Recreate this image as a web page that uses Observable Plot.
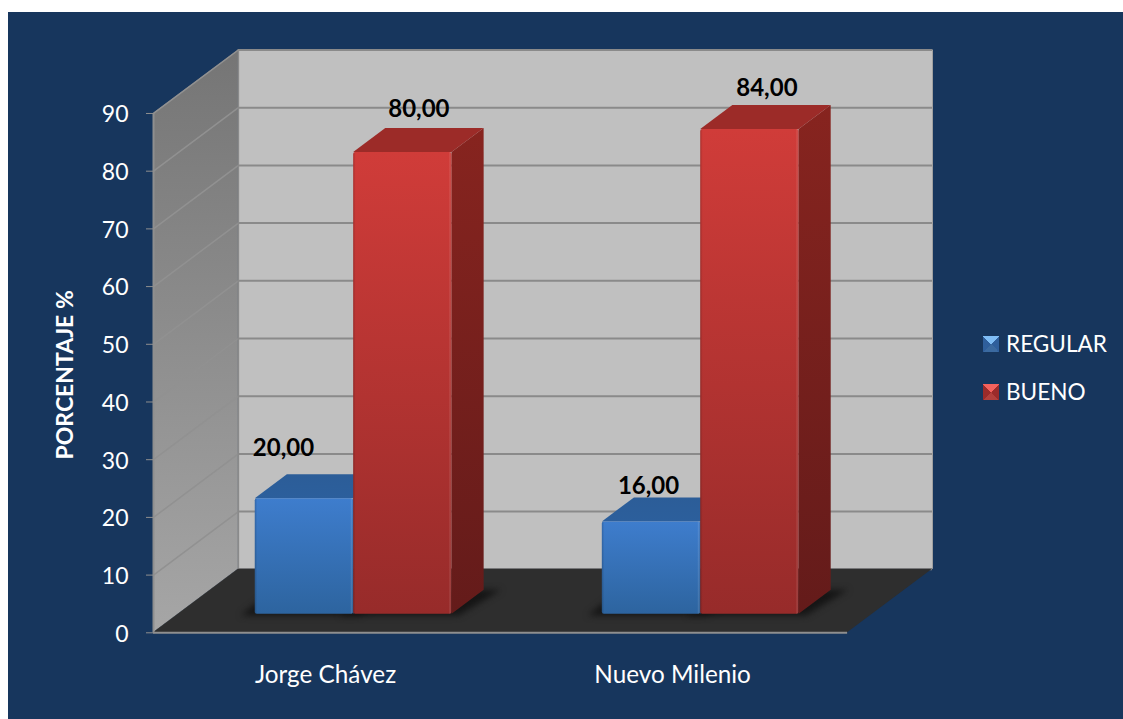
<!DOCTYPE html>
<html lang="es">
<head>
<meta charset="utf-8">
<title>Porcentaje por institución</title>
<script src="https://cdn.jsdelivr.net/npm/d3@7"></script>
<script src="https://cdn.jsdelivr.net/npm/@observablehq/plot@0.6"></script>
<style>
  html, body { margin: 0; padding: 0; background: #fff; }
  body { width: 1123px; height: 719px; position: relative; overflow: hidden; font-family: Lato, sans-serif; }
  #panel { position: absolute; left: 8px; top: 12px; right: 0; bottom: 0; background: #17365d; }
  #chart { position: absolute; left: 0; top: 0; }
  #chart svg { background: transparent; overflow: visible; display: block; }
  .legend-item { position: absolute; left: 983px; height: 16px; display: flex; align-items: center; color: #fff; font-size: 22.6px; }
  .legend-item span.name { position: relative; top: -1px; }
  .swatch { width: 16px; height: 16px; margin-right: 7px; flex: none; }
  .swatch.regular { background: conic-gradient(from 315deg, #7fbdf5 0 25%, #2f5f9c 25% 50%, #3b6aa0 50% 75%, #2f5f9c 75% 100%); }
  .swatch.bueno { background: conic-gradient(from 315deg, #f4625d 0 25%, #9b2b2a 25% 50%, #b2403c 50% 75%, #9b2b2a 75% 100%); }
</style>
</head>
<body>
<div id="panel"></div>
<div id="chart"></div>
<div class="legend-item" style="top:336px"><span class="swatch regular"></span><span class="name">REGULAR</span></div>
<div class="legend-item" style="top:384px"><span class="swatch bueno"></span><span class="name">BUENO</span></div>
<script>
// Survey results per school
const categories = ["Jorge Chávez", "Nuevo Milenio"];
const regular = [20, 16];
const bueno = [80, 84];
const yTicks = [0, 10, 20, 30, 40, 50, 60, 70, 80, 90];
const yMax = 90;

// Oblique projection: depth z in 0..1 shifts a point right and up, in data units
const DEPTH_X = 0.2446;
const DEPTH_Y = 11;
const BAR_Z0 = 0.293;
const BAR_Z1 = 0.671;
const BAR_START = 0.2216;
const BAR_WIDTH = 0.2835;
const px = (x, z) => x + z * DEPTH_X;
const py = (y, z) => y + z * DEPTH_Y;

const bars = [];
categories.forEach((name, i) => {
  bars.push({name, series: "regular", v: regular[i], x0: i + BAR_START, x1: i + BAR_START + BAR_WIDTH});
  bars.push({name, series: "bueno", v: bueno[i], x0: i + BAR_START + BAR_WIDTH, x1: i + BAR_START + 2 * BAR_WIDTH});
});

// Value labels sit freely above the bars, each with its own nudge in pixels
const labelNudge = [[-21, -50], [16, -43], [-3, -36], [17, -41]];

const linear = (id, x2, y2, stops) => {
  const g = d3.create("svg:linearGradient").attr("id", id)
    .attr("x1", 0).attr("y1", 0).attr("x2", x2).attr("y2", y2);
  stops.forEach(([o, c, a]) => g.append("stop").attr("offset", o).attr("stop-color", c).attr("stop-opacity", a ?? 1));
  return g.node();
};
const gradients = () => {
  const defs = d3.create("svg:defs");
  [
    linear("blueFront", 0, 1, [[0, "#3e7dcd"], [1, "#2d649f"]]),
    linear("blueTop", 0, 1, [[0, "#2c5d98"], [1, "#2c5f9c"]]),
    linear("redFront", 0, 1, [[0, "#d03c39"], [1, "#972b2a"]]),
    linear("redSide", 0, 1, [[0, "#87241f"], [1, "#641b1a"]]),
    linear("redTop", 0, 0, [[0, "#9c2b28"], [1, "#9c2b28"]]),
    linear("wall", 0, 1, [[0, "#757575"], [1, "#a6a6a6"]]),
    linear("bevel", 1, 0, [[0, "#000", 0.18], [0.025, "#000", 0], [0.97, "#fff", 0], [0.985, "#fff", 0.12], [1, "#000", 0.15]])
  ].forEach((n) => defs.node().appendChild(n));
  return defs.node();
};

const frontEdge = "#8f8f8f";
const wallTop = yMax + DEPTH_Y;

// Parallelogram helpers: vertical sides use areaY, horizontal sides use areaX
const sideFace = (b) => [
  {x: px(b.x1, BAR_Z0), y1: py(0, BAR_Z0), y2: py(b.v, BAR_Z0)},
  {x: px(b.x1, BAR_Z1), y1: py(0, BAR_Z1), y2: py(b.v, BAR_Z1)}
];
const topFace = (b) => [
  {y: py(b.v, BAR_Z0), x1: px(b.x0, BAR_Z0), x2: px(b.x1, BAR_Z0)},
  {y: py(b.v, BAR_Z1), x1: px(b.x0, BAR_Z1), x2: px(b.x1, BAR_Z1)}
];
const shadow = (b) => [
  {y: py(0, BAR_Z0 - 0.03), x1: px(b.x0 - 0.04, BAR_Z0), x2: px(b.x1 + 0.02, BAR_Z0)},
  {y: py(0, BAR_Z1), x1: px(b.x0 - 0.04, BAR_Z1), x2: px(b.x1 + 0.05, BAR_Z1)}
];

const barMarks = bars.flatMap((b) => {
  const blue = b.series === "regular";
  return [
    Plot.areaY(sideFace(b), {x: "x", y1: "y1", y2: "y2", fill: blue ? "#2b5a92" : "url(#redSide)"}),
    Plot.areaX(topFace(b), {y: "y", x1: "x1", x2: "x2", fill: blue ? "url(#blueTop)" : "url(#redTop)"}),
    Plot.rect([b], {
      x1: (d) => px(d.x0, BAR_Z0), x2: (d) => px(d.x1, BAR_Z0),
      y1: py(0, BAR_Z0), y2: (d) => py(d.v, BAR_Z0),
      fill: blue ? "url(#blueFront)" : "url(#redFront)", rx: 2
    }),
    Plot.rect([b], {
      x1: (d) => px(d.x0, BAR_Z0), x2: (d) => px(d.x1, BAR_Z0),
      y1: py(0, BAR_Z0), y2: (d) => py(d.v, BAR_Z0),
      fill: "url(#bevel)", rx: 2
    })
  ];
});

const chart = Plot.plot({
  width: 1123,
  height: 719,
  marginLeft: 153,
  marginRight: 191,
  marginTop: 49.5,
  marginBottom: 86.7,
  x: {domain: [0, categories.length + DEPTH_X], axis: null},
  y: {domain: [0, wallTop], axis: null},
  style: {background: "transparent", fontFamily: "Lato, sans-serif"},
  marks: [
    gradients,
    // back wall and its gridlines
    Plot.rect([0], {x1: DEPTH_X, x2: categories.length + DEPTH_X, y1: DEPTH_Y, y2: wallTop, fill: "#c0c0c0"}),
    Plot.ruleY(yTicks, {y: (d) => d + DEPTH_Y, x1: DEPTH_X, x2: categories.length + DEPTH_X, stroke: "#8a8a8a", strokeWidth: 2}),
    Plot.ruleX([categories.length + DEPTH_X], {y1: DEPTH_Y, y2: wallTop, stroke: "#a0a0a0", strokeWidth: 1}),
    // left wall with its receding gridlines
    Plot.areaY([{x: 0, y1: 0, y2: yMax}, {x: DEPTH_X, y1: DEPTH_Y, y2: wallTop}], {x: "x", y1: "y1", y2: "y2", fill: "url(#wall)"}),
    Plot.link(yTicks, {x1: 0, x2: DEPTH_X, y1: (d) => d, y2: (d) => d + DEPTH_Y, stroke: "#919191", strokeWidth: 1.5}),
    Plot.ruleX([DEPTH_X], {y1: DEPTH_Y, y2: wallTop, stroke: "#8a8a8a", strokeWidth: 1.5}),
    // floor
    Plot.areaX([{y: 0, x1: 0, x2: categories.length}, {y: DEPTH_Y, x1: DEPTH_X, x2: categories.length + DEPTH_X}], {y: "y", x1: "x1", x2: "x2", fill: "#2e2e2e"}),
    // front edges
    Plot.ruleX([0], {y1: 0, y2: yMax, stroke: frontEdge, strokeWidth: 2}),
    Plot.ruleY([0], {x1: 0, x2: categories.length, stroke: frontEdge, strokeWidth: 2}),
    // soft shadows under the bars
    ...bars.map((b) => Plot.areaX(shadow(b), {y: "y", x1: "x1", x2: "x2", fill: "#151515", imageFilter: "blur(3px)"})),
    ...barMarks,
    // tick marks and their labels are drawn apart so the labels can sit slightly lower
    Plot.axisY(yTicks, {
      anchor: "left", tickSize: 7, stroke: frontEdge, text: null, label: null
    }),
    Plot.axisY(yTicks, {
      anchor: "left", tickSize: 0, tickPadding: 25, fill: "#fff", dy: 1.5,
      fontSize: 23, label: null, tickFormat: (d) => String(d)
    }),
    Plot.text(["PORCENTAJE %"], {
      frameAnchor: "left", textAnchor: "middle", y: 44.7, dx: -88, rotate: -90,
      fill: "#fff", fontWeight: "bold", fontSize: 23
    }),
    Plot.text(categories, {
      x: (d, i) => i + 0.5, y: 0, dy: 42, dx: -1.5, fill: "#fff", fontSize: 24.3
    }),
    ...bars.map((b, i) => Plot.text([b], {
      x: (d) => px((d.x0 + d.x1) / 2, BAR_Z0), y: (d) => py(d.v, BAR_Z0),
      text: (d) => d.v.toFixed(2).replace(".", ","),
      dx: labelNudge[i][0], dy: labelNudge[i][1],
      fill: "#000", fontWeight: "bold", fontSize: 24
    }))
  ]
});
document.getElementById("chart").append(chart);
</script>
</body>
</html>
